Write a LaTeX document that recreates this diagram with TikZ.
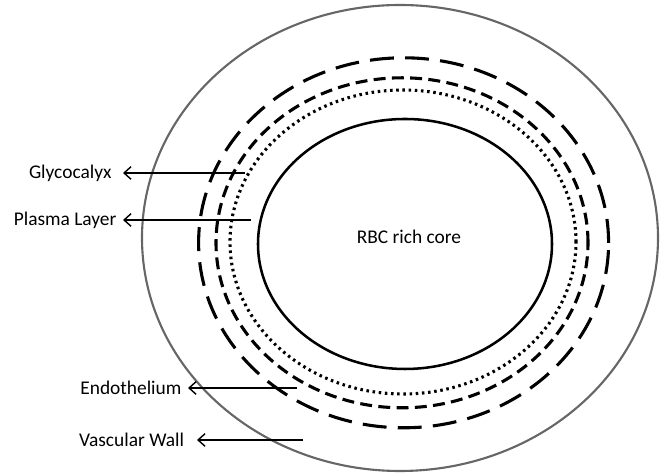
\documentclass[tikz,border=0pt]{standalone}
\usepackage{fontspec}
\setmainfont{Carlito}
\usetikzlibrary{arrows.meta}

\tikzset{
  lab/.style={anchor=east,font=\fontsize{13.8}{16}\selectfont},
  wall/.style={draw=black!60,line width=1.5pt},
  longdash/.style={line width=2.2pt,dash pattern=on 17pt off 8pt},
  shortdash/.style={line width=2.2pt,dash pattern=on 8.5pt off 4.5pt},
  dotline/.style={line width=2.2pt,dash pattern=on 1.8pt off 2.6pt},
}

\begin{document}
\begin{tikzpicture}[>={Straight Barb[length=5pt,width=9pt]}]
  \useasboundingbox (0,0) rectangle (16.5,11.9);
  % layers, outside in
  \draw[wall] (10,5.95) ellipse [x radius=6.45,y radius=5.825];
  \draw[longdash] (10.09,5.83) ellipse [x radius=5.125,y radius=4.625];
  \draw[shortdash] (10.05,5.83) ellipse [x radius=4.65,y radius=4.125];
  \draw[dotline] (10.075,5.85) ellipse [x radius=4.325,y radius=3.8];
  \draw[line width=1.8pt] (10.125,5.8) ellipse [x radius=3.675,y radius=3.125];
  \node[font=\fontsize{13.8}{16}\selectfont] (core) at (10.225,5.975) {RBC rich core};
  % labels and arrows
  \foreach \n/\x/\y/\s/\g/\t in {gly/3.075/7.575/6.125/8pt/Glycocalyx,
      plasma/3.075/6.4/6.275/4.5pt/Plasma Layer,
      endo/4.7/2.2/7.425/4.5pt/Endothelium,
      vasc/4.925/0.9/7.575/9pt/Vascular Wall} {
    \node[lab,inner sep=\g] (\n) at (\x,\y) {\t};
    \coordinate (\n s) at (\s,\y);
    \draw[->,line width=1pt] (\n s) -- (\n.east);
  }
\end{tikzpicture}
\end{document}
